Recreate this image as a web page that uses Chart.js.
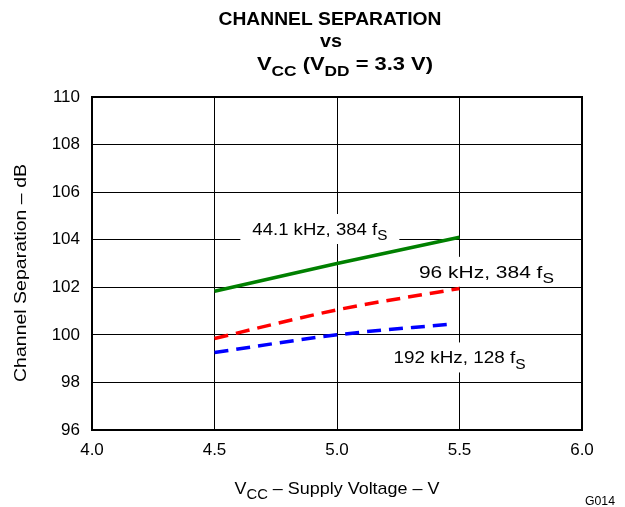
<!DOCTYPE html>
<html>
<head>
<meta charset="utf-8">
<script src="https://cdn.jsdelivr.net/npm/chart.js@4/dist/chart.umd.min.js"></script>
<style>
html,body{margin:0;padding:0;background:#fff;}
#wrap{width:625px;height:507px;position:relative;}
</style>
</head>
<body>
<div id="wrap"><canvas id="c" width="625" height="507"></canvas></div>
<script>
// ---- data ----
const voltage = [4.5, 5.0, 5.5];
const sep44k = [101.83, 103.0, 104.1];
const sep96k = [99.85, 101.05, 101.95];
const voltage192k = [4.5, 5.0, 5.46];
const sep192k = [99.26, 100.0, 100.45];
const xTicks = [4.0, 4.5, 5.0, 5.5, 6.0];
const yTicks = [96, 98, 100, 102, 104, 106, 108, 110];
const seriesLabels = ['44.1 kHz, 384 fS', '96 kHz, 384 fS', '192 kHz, 128 fS'];

const FONT = 'Liberation Sans, Arial, Helvetica, sans-serif';

function pts(xs, ys){ return xs.map((x,i)=>({x:x, y:ys[i]})); }

function richWidth(ctx, segs, size, bold, subScale){
  let w = 0;
  for (const s of segs){
    ctx.font = (bold?'bold ':'') + (s.sub? Math.round(size*subScale): size) + 'px ' + FONT;
    w += ctx.measureText(s.t).width;
  }
  return w;
}
// draws segmented text (subscripts) centred at x, optionally stretched horizontally to targetW
function drawRich(ctx, segs, x, y, size, bold, targetW, subScale){
  subScale = subScale || 0.78;
  const w = richWidth(ctx, segs, size, bold, subScale);
  const sx = targetW ? targetW / w : 1;
  ctx.save();
  ctx.translate(x - w*sx/2, y);
  ctx.scale(sx, 1);
  ctx.textBaseline = 'alphabetic';
  ctx.textAlign = 'left';
  let cx = 0;
  for (const s of segs){
    const fs = s.sub? Math.round(size*subScale): size;
    ctx.font = (bold?'bold ':'') + fs + 'px ' + FONT;
    ctx.fillText(s.t, cx, s.sub? size*0.3 : 0);
    cx += ctx.measureText(s.t).width;
  }
  ctx.restore();
  return w*sx;
}
function splitSub(label){
  const i = label.lastIndexOf('f');
  return [{t: label.slice(0, i+1)}, {t: label.slice(i+1), sub:true}];
}

const textPlugin = {
  id: 'texts',
  beforeDatasetsDraw(chart){
    const ctx = chart.ctx;
    const xs = chart.scales.x, ys = chart.scales.y;
    ctx.save();
    const size = 17;
    const labelPos = [
      {x: 4.93, y: 104.45, w: 135},
      {x: 5.61, y: 102.65, w: 135},
      {x: 5.50, y: 99.05, w: 132}
    ];
    seriesLabels.forEach((lab, i) => {
      const segs = splitSub(lab);
      const px = xs.getPixelForValue(labelPos[i].x);
      const py = ys.getPixelForValue(labelPos[i].y);
      const w = labelPos[i].w;
      ctx.fillStyle = '#fff';
      ctx.fillRect(px - w/2 - 12, py - 15, w + 24, 30);
      ctx.fillStyle = '#000';
      drawRich(ctx, segs, px, py + 6, size, false, w, 0.8);
    });
    ctx.restore();
  },
  afterDraw(chart){
    const ctx = chart.ctx;
    ctx.save();
    ctx.fillStyle = '#000';
    // title
    drawRich(ctx, [{t:'CHANNEL SEPARATION'}], 330, 25, 19, true, 223);
    drawRich(ctx, [{t:'vs'}], 331, 47, 19, true, 22);
    drawRich(ctx, [{t:'V'},{t:'CC',sub:true},{t:' (V'},{t:'DD',sub:true},{t:' = 3.3 V)'}], 345, 70, 19, true, 176, 0.8);
    // x axis title
    drawRich(ctx, [{t:'V'},{t:'CC',sub:true},{t:' \u2013 Supply Voltage \u2013 V'}], 337, 494, 17, false, 205, 0.8);
    // y axis title
    ctx.save();
    ctx.translate(26, 273);
    ctx.rotate(-Math.PI/2);
    drawRich(ctx, [{t:'Channel Separation \u2013 dB'}], 0, 0, 17, false, 218);
    ctx.restore();
    // figure code
    drawRich(ctx, [{t:'G014'}], 600, 505, 12, false, 30);
    ctx.restore();
  }
};

const chart = new Chart(document.getElementById('c'), {
  type: 'line',
  data: {
    datasets: [
      { label: seriesLabels[0], data: pts(voltage, sep44k), borderColor: '#008000', borderWidth: 3.5, pointRadius: 0, fill: false },
      { label: seriesLabels[1], data: pts(voltage, sep96k), borderColor: '#ff0000', borderWidth: 3.5, borderDash: [14, 8], pointRadius: 0, fill: false, cubicInterpolationMode: 'monotone' },
      { label: seriesLabels[2], data: pts(voltage192k, sep192k), borderColor: '#0000ff', borderWidth: 3.5, borderDash: [14, 8], pointRadius: 0, fill: false, cubicInterpolationMode: 'monotone' }
    ]
  },
  options: {
    responsive: false,
    animation: false,
    devicePixelRatio: 1,
    layout: { padding: { left: 0, top: 97, right: 43, bottom: 0 } },
    plugins: { legend: { display: false }, title: { display: false }, tooltip: { enabled: false } },
    scales: {
      x: {
        type: 'linear', min: 4.0, max: 6.0,
        afterBuildTicks: s => { s.ticks = xTicks.map(v => ({value: v})); },
        afterFit: s => { s.height = 77; },
        grid: { color: '#000', lineWidth: 1, drawTicks: false },
        border: { color: '#000', width: 2 },
        ticks: { color: '#000', padding: 10, font: { family: FONT, size: 17 }, maxRotation: 0, callback: v => v.toFixed(1) }
      },
      y: {
        type: 'linear', min: 96, max: 110,
        afterBuildTicks: s => { s.ticks = yTicks.map(v => ({value: v})); },
        afterFit: s => { s.width = 92; },
        grid: { color: '#000', lineWidth: 1, drawTicks: false },
        border: { color: '#000', width: 2 },
        ticks: { color: '#000', padding: 12, font: { family: FONT, size: 17 }, callback: v => String(v) }
      }
    }
  },
  plugins: [textPlugin, {
    id: 'frame',
    afterDatasetsDraw(chart){
      const a = chart.chartArea, ctx = chart.ctx;
      ctx.save();
      ctx.strokeStyle = '#000'; ctx.lineWidth = 2;
      ctx.strokeRect(a.left, a.top, a.right - a.left, a.bottom - a.top);
      ctx.restore();
    }
  }]
});
</script>
</body>
</html>
